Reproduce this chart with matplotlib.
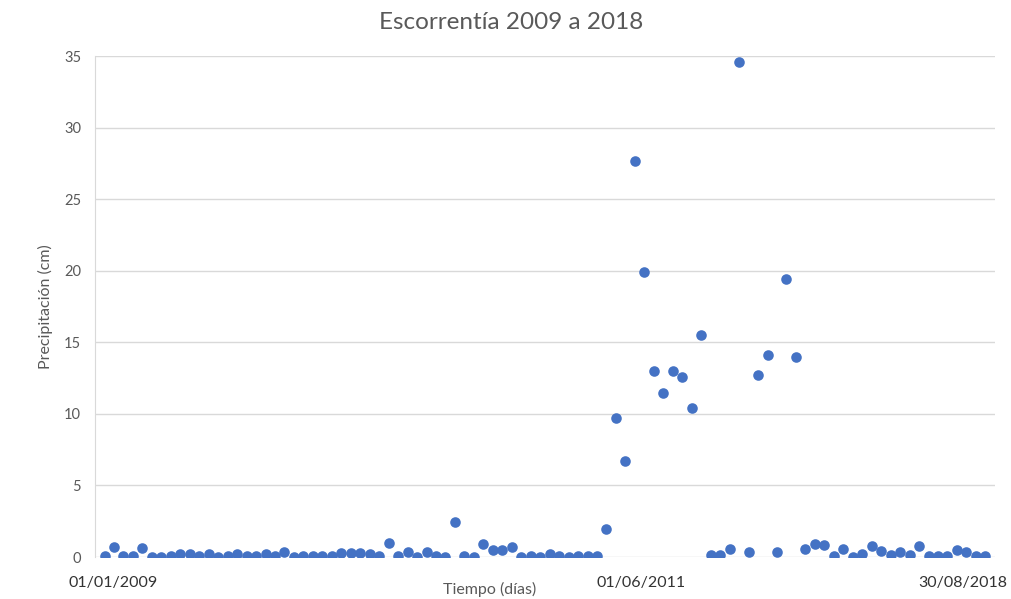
import numpy as np
import matplotlib
matplotlib.use("Agg")
import matplotlib.pyplot as plt

plt.rcParams['font.family'] = ['Lato', 'DejaVu Sans']

# Escorrentía (cm) por muestra
escorrentia = [
    0.05, 0.7, 0.05, 0.05, 0.6, 0.0, 0.0, 0.07, 0.19, 0.19,
    0.07, 0.19, 0.0, 0.07, 0.19, 0.07, 0.07, 0.19, 0.07, 0.35,
    0.0, 0.07, 0.07, 0.07, 0.07, 0.28, 0.28, 0.28, 0.19, 0.07,
    1.0, 0.05, 0.35, 0.0, 0.35, 0.05, 0.0, 2.45, 0.05, 0.0,
    0.89, 0.5, 0.5, 0.7, 0.0, 0.07, 0.0, 0.19, 0.07, 0.0,
    0.07, 0.07, 0.07, 1.98, 9.7, 6.7, 27.7, 19.9, 13.0, 11.45,
    13.0, 12.6, 10.4, 15.5, 0.12, 0.12, 0.58, 34.55, 0.35, 12.7,
    14.1, 0.35, 19.4, 14.0, 0.58, 0.93, 0.82, 0.05, 0.58, 0.0,
    0.19, 0.79, 0.44, 0.12, 0.35, 0.12, 0.79, 0.05, 0.05, 0.05,
    0.51, 0.35, 0.05, 0.05,
]
muestra = np.arange(1, len(escorrentia) + 1)

fechas = ['01/01/2009', '01/06/2011', '30/08/2018']
fecha_pos = [1.9, 57.6, 91.6]

fig = plt.figure(figsize=(10.11, 5.99), dpi=100)
ax = fig.add_axes([0.094, 0.0701, 0.890, 0.8364])

ax.scatter(muestra, escorrentia, s=58, color='#4472C4', zorder=3, linewidths=0)

ax.set_xlim(0, 95)
ax.set_ylim(0, 35)
ax.set_yticks(np.arange(0, 36, 5))
ax.grid(axis='y', color='#d9d9d9', linewidth=1)
ax.set_axisbelow(True)

for s in ['top', 'right', 'bottom']:
    ax.spines[s].set_visible(False)
ax.spines['left'].set_color('#d9d9d9')

ax.tick_params(axis='y', length=0, labelsize=10.5, labelcolor='#595959', pad=10)
ax.set_xticks(fecha_pos)
ax.set_xticklabels(fechas, fontsize=11.5, color='#333333')
ax.tick_params(axis='x', length=0, pad=14)

ax.set_ylabel('Precipitación (cm)', fontsize=11.5, color='#595959', labelpad=8)
fig.text(0.484, 0.003, 'Tiempo (días)', fontsize=11.5, color='#595959', ha='center', va='bottom')
fig.text(0.506, 0.962, 'Escorrentía 2009 a 2018', fontsize=17.5, color='#595959', ha='center', va='center')

fig.savefig('out.png', dpi=100)
